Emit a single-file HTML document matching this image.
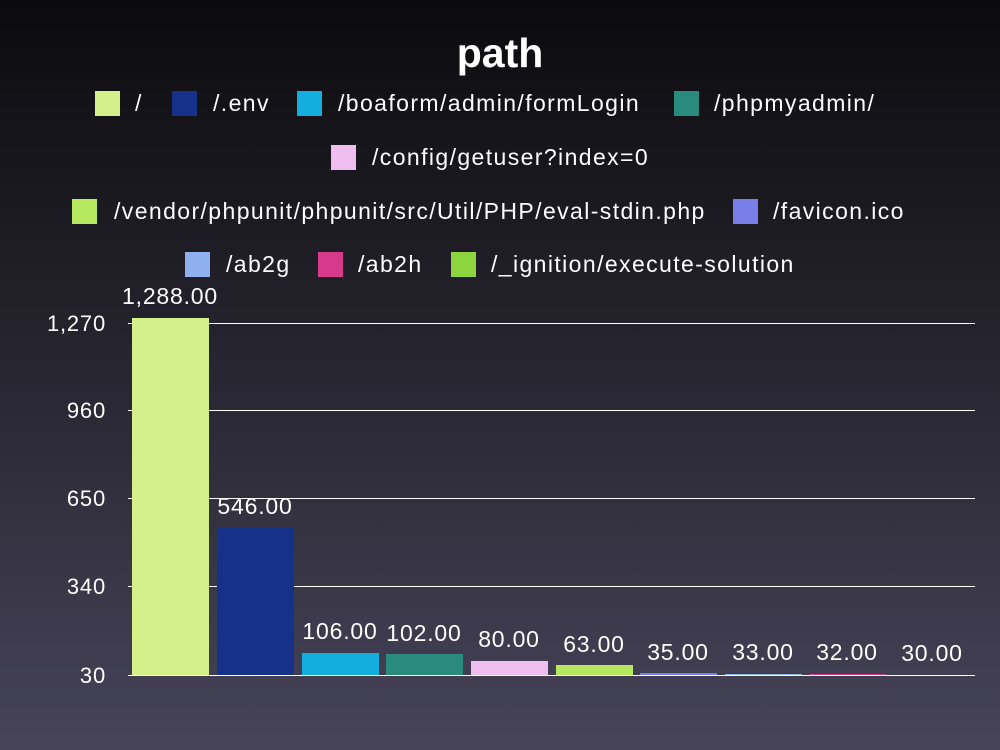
<!DOCTYPE html>
<html><head><meta charset="utf-8"><style>
*{margin:0;padding:0;box-sizing:border-box}
body{width:1000px;height:750px;overflow:hidden;background:linear-gradient(to bottom,#0b0b0e 0%,#25232d 45%,#47445a 100%);font-family:"Liberation Sans",sans-serif;color:#fff;position:relative}
.a{position:absolute;white-space:nowrap}
.sw{position:absolute;width:25px;height:25px}
.lt{position:absolute;font-size:23px;letter-spacing:1.4px;line-height:25px;white-space:nowrap}
.g{position:absolute;left:128px;width:847px;height:1px;background:#fff}
.tk{position:absolute;width:80px;left:26px;text-align:right;font-size:22px;letter-spacing:0.8px;line-height:24px}
.bar{position:absolute;width:77px}
.bl{position:absolute;width:110px;text-align:center;font-size:23px;letter-spacing:0.8px;line-height:24px}
</style></head><body>
<div class="a" style="left:0;width:1000px;text-align:center;top:30px;font-size:41px;font-weight:bold">path</div>

<div class="sw" style="left:95px;top:91px;background:#d3f08a"></div><div class="lt" style="left:135px;top:91px">/</div>
<div class="sw" style="left:172px;top:91px;background:#16318a"></div><div class="lt" style="left:213px;top:91px">/.env</div>
<div class="sw" style="left:297px;top:91px;background:#14ade0"></div><div class="lt" style="left:338px;top:91px">/boaform/admin/formLogin</div>
<div class="sw" style="left:674px;top:91px;background:#2a8a7e"></div><div class="lt" style="left:714px;top:91px">/phpmyadmin/</div>
<div class="sw" style="left:331px;top:145px;background:#f0bdf0"></div><div class="lt" style="left:372px;top:145px">/config/getuser?index=0</div>
<div class="sw" style="left:72px;top:199px;background:#b5e85e"></div><div class="lt" style="left:114px;top:199px">/vendor/phpunit/phpunit/src/Util/PHP/eval-stdin.php</div>
<div class="sw" style="left:733px;top:199px;background:#7a7ee8"></div><div class="lt" style="left:773px;top:199px">/favicon.ico</div>
<div class="sw" style="left:185px;top:252px;background:#8fb0ee"></div><div class="lt" style="left:226px;top:252px">/ab2g</div>
<div class="sw" style="left:318px;top:252px;background:#d63a8a"></div><div class="lt" style="left:358px;top:252px">/ab2h</div>
<div class="sw" style="left:451px;top:252px;background:#8ed43e"></div><div class="lt" style="left:491px;top:252px">/_ignition/execute-solution</div>

<div class="g" style="top:323px"></div>
<div class="g" style="top:410px"></div>
<div class="g" style="top:498px"></div>
<div class="g" style="top:586px"></div>
<div class="g" style="top:675px"></div>
<div class="tk" style="top:312px">1,270</div>
<div class="tk" style="top:399px">960</div>
<div class="tk" style="top:487px">650</div>
<div class="tk" style="top:575px">340</div>
<div class="tk" style="top:664px">30</div>

<div class="bar" style="left:132px;top:318px;height:357px;background:#d3f08a"></div>
<div class="bar" style="left:217px;top:528px;height:147px;background:#16318a"></div>
<div class="bar" style="left:302px;top:653px;height:22px;background:#14ade0"></div>
<div class="bar" style="left:386px;top:654px;height:21px;background:#2a8a7e"></div>
<div class="bar" style="left:471px;top:661px;height:14px;background:#f0bdf0"></div>
<div class="bar" style="left:556px;top:665px;height:10px;background:#b5e85e"></div>
<div class="bar" style="left:640px;top:673px;height:2px;background:#7a7ee8"></div>
<div class="bar" style="left:725px;top:674px;height:1px;background:#8fb0ee"></div>
<div class="bar" style="left:809px;top:674px;height:1px;background:#d63a8a"></div>

<div class="bl" style="left:115px;top:284px">1,288.00</div>
<div class="bl" style="left:200px;top:494px">546.00</div>
<div class="bl" style="left:285px;top:619px">106.00</div>
<div class="bl" style="left:369px;top:621px">102.00</div>
<div class="bl" style="left:454px;top:627px">80.00</div>
<div class="bl" style="left:539px;top:632px">63.00</div>
<div class="bl" style="left:623px;top:640px">35.00</div>
<div class="bl" style="left:708px;top:640px">33.00</div>
<div class="bl" style="left:792px;top:640px">32.00</div>
<div class="bl" style="left:877px;top:641px">30.00</div>
</body></html>
